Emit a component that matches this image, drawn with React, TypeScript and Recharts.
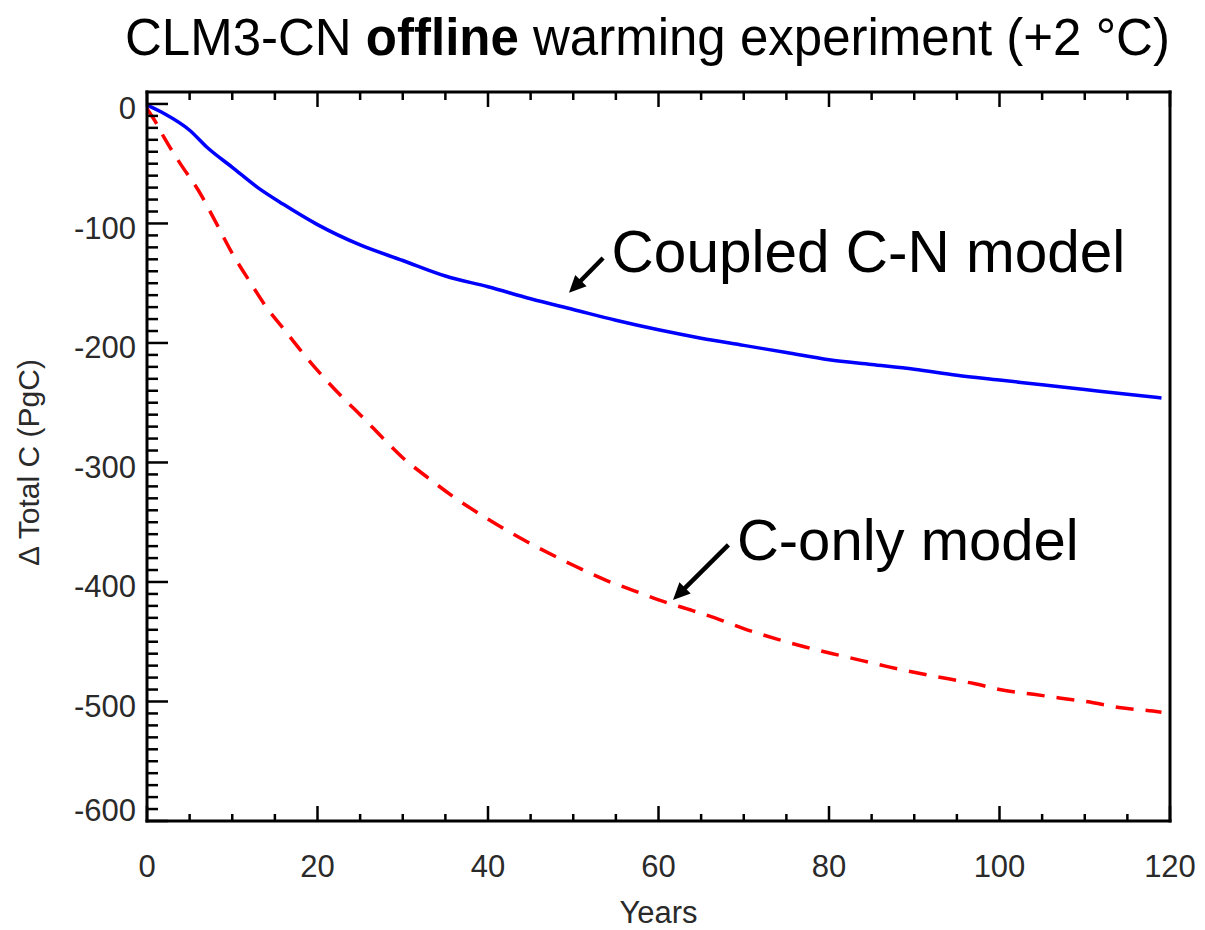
import React from 'react';
import { LineChart, Line, XAxis, YAxis, ReferenceLine, ReferenceDot } from 'recharts';

// ---- data ----
const blueYears = [0, 2, 5, 7, 10, 13, 16, 20, 25, 30, 35, 40, 45, 50, 55, 60, 65, 70, 75, 80, 85, 90, 95, 100, 105, 110, 115, 119];
const blueValues = [-1, -8, -22, -36, -53, -70, -84, -101, -118, -131, -144, -153, -163, -172, -181, -189, -196, -202, -208, -214, -218, -222, -227, -231, -235, -239, -243, -246];

const redYears = [0, 1, 2, 4, 6, 8, 10, 12, 14, 16, 18, 20, 23, 25, 28, 30, 33, 36, 39, 42, 45, 48, 50, 54, 57, 60, 64, 67, 70, 74, 77, 81, 84, 87, 91, 94, 97, 100, 104, 107, 111, 114, 118, 119];
const redValues = [-4, -15, -28, -51, -72, -98, -125, -148, -170, -188, -206, -223, -246, -260, -282, -296, -313, -329, -343, -356, -368, -379, -386, -399, -407, -415, -424, -431, -439, -448, -454, -461, -466, -471, -477, -481, -485, -490, -494, -497, -501, -505, -508, -509];

const xTicks = [0, 5, 10, 15, 20, 25, 30, 35, 40, 45, 50, 55, 60, 65, 70, 75, 80, 85, 90, 95, 100, 105, 110, 115, 120];
const yTicks = [-600, -590, -580, -570, -560, -550, -540, -530, -520, -510, -500, -490, -480, -470, -460, -450, -440, -430, -420, -410, -400, -390, -380, -370, -360, -350, -340, -330, -320, -310, -300, -290, -280, -270, -260, -250, -240, -230, -220, -210, -200, -190, -180, -170, -160, -150, -140, -130, -120, -110, -100, -90, -80, -70, -60, -50, -40, -30, -20, -10, 0];
const X_DOMAIN = [0, 120];
const Y_DOMAIN = [-600, 10];

const titlePlain1 = 'CLM3-CN ';
const titleBold = 'offline';
const titlePlain2 = ' warming experiment (+2 °C)';
const yLabel = 'Δ Total C (PgC)';
const xLabel = 'Years';
const noteCN = 'Coupled C-N model';
const noteC = 'C-only model';
// annotation anchors in data units
const noteCNPos = { x: 54.5, y: -140.3 };
const noteCPos = { x: 69.2, y: -381.6 };
const arrowCN = [{ x: 53.5, y: -128.9 }, { x: 49.5, y: -157.9 }];
const arrowC = [{ x: 68.2, y: -369 }, { x: 61.7, y: -415 }];

const blueData = blueYears.map((year, i) => ({ year, v: blueValues[i] }));
const redData = redYears.map((year, i) => ({ year, v: redValues[i] }));

const FONT = '"Liberation Sans", Arial, Helvetica, sans-serif';
const TICK_COLOR = '#2a2a2a';

const BottomTick = (props: any) => {
  const { x, y, payload } = props;
  const v = payload.value;
  const major = v % 20 === 0;
  return (
    <g>
      <line x1={x} x2={x} y1={y} y2={y - (major ? 15 : 7)} stroke="#000" strokeWidth={2.5} />
      {major && (
        <text x={x} y={y + 56} textAnchor="middle" fontSize={31} fill={TICK_COLOR} fontFamily={FONT}>
          {v}
        </text>
      )}
    </g>
  );
};

const TopTick = (props: any) => {
  const { x, y, payload } = props;
  const major = payload.value % 20 === 0;
  return <line x1={x} x2={x} y1={y} y2={y + (major ? 15 : 8)} stroke="#000" strokeWidth={2.5} />;
};

const LeftTick = (props: any) => {
  const { x, y, payload } = props;
  const v = payload.value;
  const major = v % 100 === 0;
  const center = v === Y_DOMAIN[0] ? y - 11 : y + 4.5;
  return (
    <g>
      <line x1={x} x2={x + (major ? 21 : 11)} y1={y} y2={y} stroke="#000" strokeWidth={2.5} />
      {major && (
        <text x={x - 11} y={center + 11} textAnchor="end" fontSize={31} fill={TICK_COLOR} fontFamily={FONT}>
          {v}
        </text>
      )}
    </g>
  );
};

const RightTick = (props: any) => {
  const { x, y, payload } = props;
  const major = payload.value % 100 === 0;
  return <line x1={x} x2={x - (major ? 21 : 11)} y1={y} y2={y} stroke="#000" strokeWidth={2.5} />;
};

const ArrowShape = (props: any) => {
  const { x1, y1, x2, y2 } = props;
  const dx = x2 - x1;
  const dy = y2 - y1;
  const len = Math.sqrt(dx * dx + dy * dy) || 1;
  const ux = dx / len;
  const uy = dy / len;
  const head = 17;
  const half = 8;
  const bx = x2 - ux * head;
  const by = y2 - uy * head;
  const px = -uy;
  const py = ux;
  return (
    <g>
      <line x1={x1} y1={y1} x2={bx + ux * 2} y2={by + uy * 2} stroke="#000" strokeWidth={4.5} />
      <polygon
        points={`${x2},${y2} ${bx + px * half},${by + py * half} ${bx - px * half},${by - py * half}`}
        fill="#000"
      />
    </g>
  );
};

const makeNote = (text: string, size: number) => (p: any) => (
  <text x={p.cx} y={p.cy} fontSize={size} fill="#000" fontFamily={FONT}>
    {text}
  </text>
);

export default function App() {
  return (
    <div style={{ position: 'relative', width: 1197, height: 922, background: '#fff' }}>
      <div
        style={{
          position: 'absolute',
          left: 117,
          top: 4,
          fontSize: 51,
          lineHeight: '51px',
          fontFamily: FONT,
          color: '#000',
          whiteSpace: 'nowrap',
        }}
      >
        {titlePlain1}
        <b>{titleBold}</b>
        {titlePlain2}
      </div>
      <LineChart width={1197} height={922} data={blueData} margin={{ top: 83, right: 34, bottom: 0, left: 0 }}>
        <XAxis
          xAxisId="b"
          dataKey="year"
          type="number"
          domain={X_DOMAIN}
          ticks={xTicks}
          interval={0}
          orientation="bottom"
          height={109}
          tickSize={0}
          tickMargin={0}
          tickLine={false}
          axisLine={{ stroke: '#000', strokeWidth: 3, strokeLinecap: 'square' }}
          tick={<BottomTick />}
          label={{
            content: (p: any) => (
              <text
                x={p.viewBox.x + p.viewBox.width / 2}
                y={p.viewBox.y + 102}
                textAnchor="middle"
                fontSize={31}
                fill={TICK_COLOR}
                fontFamily={FONT}
              >
                {xLabel}
              </text>
            ),
          }}
        />
        <XAxis
          xAxisId="t"
          dataKey="year"
          type="number"
          domain={X_DOMAIN}
          ticks={xTicks}
          interval={0}
          orientation="top"
          height={1}
          tickSize={0}
          tickMargin={0}
          tickLine={false}
          axisLine={{ stroke: '#000', strokeWidth: 3, strokeLinecap: 'square' }}
          tick={<TopTick />}
        />
        <YAxis
          yAxisId="l"
          type="number"
          domain={Y_DOMAIN}
          ticks={yTicks}
          interval={0}
          orientation="left"
          width={139}
          tickSize={0}
          tickMargin={0}
          tickLine={false}
          axisLine={{ stroke: '#000', strokeWidth: 3, strokeLinecap: 'square' }}
          tick={<LeftTick />}
          label={{
            content: (p: any) => {
              const cx = p.viewBox.x + 20;
              const cy = p.viewBox.y + p.viewBox.height / 2 + 6;
              return (
                <text
                  x={cx}
                  y={cy}
                  transform={`rotate(-90 ${cx} ${cy})`}
                  textAnchor="middle"
                  dominantBaseline="central"
                  fontSize={30}
                  fill={TICK_COLOR}
                  fontFamily={FONT}
                >
                  {yLabel}
                </text>
              );
            },
          }}
        />
        <YAxis
          yAxisId="r"
          type="number"
          domain={Y_DOMAIN}
          ticks={yTicks}
          interval={0}
          orientation="right"
          width={1}
          tickSize={0}
          tickMargin={0}
          tickLine={false}
          axisLine={{ stroke: '#000', strokeWidth: 3, strokeLinecap: 'square' }}
          tick={<RightTick />}
        />
        <Line
          xAxisId="b"
          yAxisId="l"
          data={blueData}
          dataKey="v"
          type="monotone"
          stroke="#0000ff"
          strokeWidth={3.5}
          dot={false}
          isAnimationActive={false}
        />
        <Line
          xAxisId="b"
          yAxisId="l"
          data={redData}
          dataKey="v"
          type="monotone"
          stroke="#ff0000"
          strokeWidth={3.5}
          strokeDasharray="18 12"
          dot={false}
          isAnimationActive={false}
        />
        <ReferenceLine xAxisId="b" yAxisId="l" segment={arrowCN} shape={ArrowShape} ifOverflow="visible" />
        <ReferenceLine xAxisId="b" yAxisId="l" segment={arrowC} shape={ArrowShape} ifOverflow="visible" />
        <ReferenceDot xAxisId="b" yAxisId="l" x={noteCNPos.x} y={noteCNPos.y} r={0} shape={makeNote(noteCN, 58.5)} ifOverflow="visible" />
        <ReferenceDot xAxisId="b" yAxisId="l" x={noteCPos.x} y={noteCPos.y} r={0} shape={makeNote(noteC, 58)} ifOverflow="visible" />
      </LineChart>
    </div>
  );
}
